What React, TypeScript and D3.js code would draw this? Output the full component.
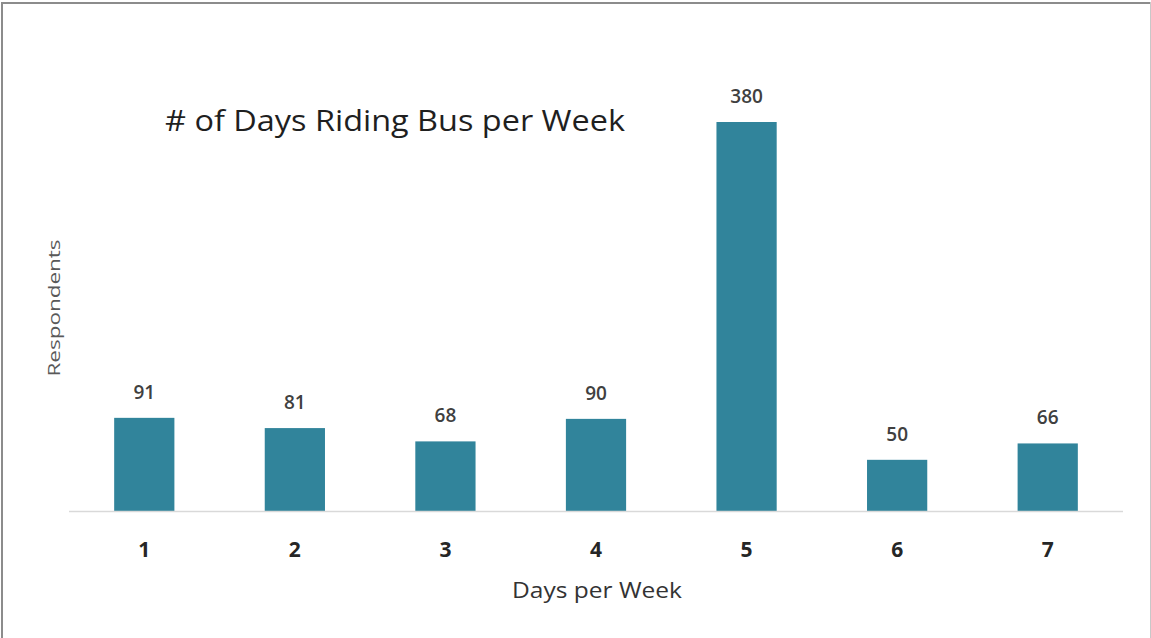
import React, { useEffect, useRef } from 'react';
import * as d3 from 'd3';

const days = ['1', '2', '3', '4', '5', '6', '7'];
const respondents = [91, 81, 68, 90, 380, 50, 66];
const chartTitle = '# of Days Riding Bus per Week';
const xTitle = 'Days per Week';
const yTitle = 'Respondents';

const W = 1151;
const H = 638;
const FONT = '"Open Sans", "Noto Sans", sans-serif';

const App = () => {
  const svgRef = useRef<SVGSVGElement>(null);

  useEffect(() => {
    const svg = d3.select(svgRef.current);
    svg.selectAll('*').remove();

    const x = d3.scaleBand<string>().domain(days).range([69, 1123]).paddingInner(0.6).paddingOuter(0.3);
    const y = d3.scaleLinear().domain([0, 380]).range([511, 122]);

    // frame
    svg.append('line').attr('x1', 2).attr('x2', 2).attr('y1', 2).attr('y2', H).attr('stroke', '#8c8c8c').attr('stroke-width', 2);
    svg.append('line').attr('x1', 1).attr('x2', W).attr('y1', 3).attr('y2', 3).attr('stroke', '#8c8c8c').attr('stroke-width', 2);
    svg.append('line').attr('x1', 1150.5).attr('x2', 1150.5).attr('y1', 2).attr('y2', H).attr('stroke', '#c8c8c8').attr('stroke-width', 1);

    svg
      .selectAll('rect.bar')
      .data(respondents)
      .join('rect')
      .attr('class', 'bar')
      .attr('x', (d, i) => x(days[i]) as number)
      .attr('width', x.bandwidth())
      .attr('y', d => y(d))
      .attr('height', d => y(0) - y(d))
      .attr('fill', '#31849b');

    // axis line
    svg.append('line').attr('x1', 69).attr('x2', 1123).attr('y1', 511.5).attr('y2', 511.5).attr('stroke', '#d9d9d9').attr('stroke-width', 1.5);

    svg
      .selectAll('text.val')
      .data(respondents)
      .join('text')
      .attr('class', 'val')
      .attr('x', (d, i) => (x(days[i]) as number) + x.bandwidth() / 2)
      .attr('y', d => y(d) - 19)
      .attr('text-anchor', 'middle')
      .style('font-family', FONT)
      .style('font-size', '19px')
      .style('font-weight', 600)
      .style('fill', '#404040')
      .text(d => d);

    svg
      .selectAll('text.tick')
      .data(days)
      .join('text')
      .attr('class', 'tick')
      .attr('x', d => (x(d) as number) + x.bandwidth() / 2)
      .attr('y', 557)
      .attr('text-anchor', 'middle')
      .style('font-family', FONT)
      .style('font-size', '21px')
      .style('font-weight', 700)
      .style('fill', '#262626')
      .text(d => d);

    svg
      .append('text')
      .attr('x', 165)
      .attr('y', 131)
      .attr('textLength', 460)
      .attr('lengthAdjust', 'spacingAndGlyphs')
      .style('font-family', FONT)
      .style('font-size', '30px')
      .style('fill', '#1f1f1f')
      .text(chartTitle);

    svg
      .append('text')
      .attr('x', 512)
      .attr('y', 598)
      .attr('textLength', 170)
      .attr('lengthAdjust', 'spacingAndGlyphs')
      .style('font-family', FONT)
      .style('font-size', '21px')
      .style('fill', '#333333')
      .text(xTitle);

    svg
      .append('text')
      .attr('transform', 'translate(60,308) rotate(-90)')
      .attr('text-anchor', 'middle')
      .attr('textLength', 137)
      .attr('lengthAdjust', 'spacingAndGlyphs')
      .style('font-family', FONT)
      .style('font-size', '17px')
      .style('fill', '#595959')
      .text(yTitle);
  }, []);

  return (
    <svg
      ref={svgRef}
      width={W}
      height={H}
      style={{ position: 'absolute', left: 0, top: 0, background: '#fff', display: 'block' }}
    ></svg>
  );
};

export default App;
